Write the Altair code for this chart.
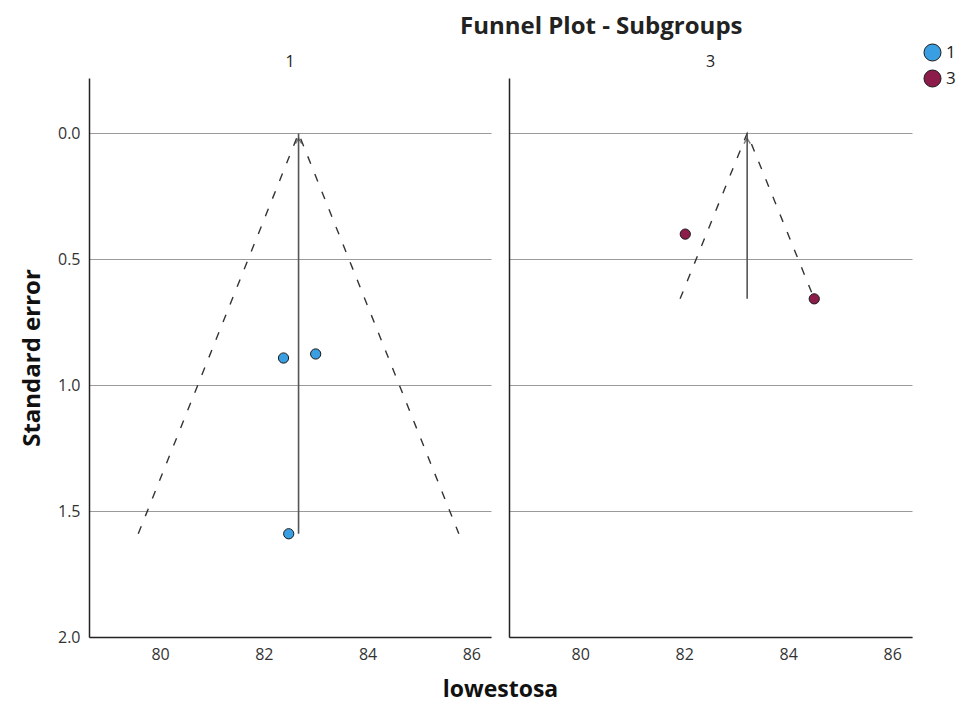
import altair as alt
import pandas as pd

# ---- data ----
groups = ["1", "3"]
effect_g1 = [82.38, 83.00, 82.48]
se_g1 = [0.892, 0.876, 1.59]
effect_g3 = [82.02, 84.50]
se_g3 = [0.40, 0.657]

pooled = {"1": 82.67, "3": 83.21}
se_max = {"1": 1.59, "3": 0.657}
funnel_left = {"1": 79.58, "3": 81.92}
funnel_right = {"1": 85.76, "3": 84.50}

x_ticks = [80, 82, 84, 86]
y_ticks = [0.0, 0.5, 1.0, 1.5, 2.0]
colors = ["#3A9FE2", "#8C1D4B"]

FONT = "Open Sans"
X_DOMAIN = [78.63, 86.38]
Y_DOMAIN = [-0.22, 2.0]


def panel(g, effects, ses, width, first):
    pts = pd.DataFrame({"effect": effects, "se": ses, "group": [g] * len(effects)})
    funnel = pd.DataFrame({
        "x": [funnel_left[g], pooled[g], funnel_right[g]],
        "y": [se_max[g], 0.0, se_max[g]],
        "order": [0, 1, 2],
    })
    vline = pd.DataFrame({"x": [pooled[g]], "y": [0.0], "y2": [se_max[g]]})
    arrow = pd.DataFrame({"x": [pooled[g]], "y": [0.0]})

    xscale = alt.Scale(domain=X_DOMAIN, nice=False, zero=False)
    yscale = alt.Scale(domain=Y_DOMAIN, nice=False, zero=False, reverse=True)

    common_x = dict(values=x_ticks, format="d", grid=False, ticks=False, labelPadding=9,
                    labelFontSize=16, labelFont=FONT, labelColor="#333",
                    domainColor="#222", domainWidth=1.5, labelFlush=False)
    if first:
        xaxis = alt.Axis(title="lowestosa", titleFontSize=23, titleFont=FONT,
                         titleFontWeight="bold", titleColor="#111", titlePadding=16,
                         titleX=411, **common_x)
        yaxis = alt.Axis(values=y_ticks, format=".1f", grid=True, gridColor="#9a9a9a",
                         gridWidth=1, ticks=False, labelPadding=9, labelFontSize=16,
                         labelFont=FONT, labelColor="#333", domainColor="#222",
                         domainWidth=1.5, title="Standard error", titleFontSize=24,
                         titleFont=FONT, titleFontWeight="bold", titleColor="#111",
                         titlePadding=13, labelFlush=False)
    else:
        xaxis = alt.Axis(title=None, **common_x)
        yaxis = alt.Axis(values=y_ticks, grid=True, gridColor="#9a9a9a", gridWidth=1,
                         ticks=False, labels=False, title=None, domainColor="#222",
                         domainWidth=1.5)

    funnel_chart = alt.Chart(funnel).mark_line(
        color="#333", strokeWidth=1.4, strokeDash=[8, 11]
    ).encode(
        x=alt.X("x:Q", scale=xscale, axis=xaxis),
        y=alt.Y("y:Q", scale=yscale, axis=yaxis),
        order="order:Q",
    )

    vline_chart = alt.Chart(vline).mark_rule(color="#555", strokeWidth=1.6).encode(
        x=alt.X("x:Q", scale=xscale), y=alt.Y("y:Q", scale=yscale), y2="y2:Q"
    )

    arrow_chart = alt.Chart(arrow).mark_point(
        shape="M-0.6,1 L0,0 L0.6,1", filled=False, color="#444", strokeWidth=1.4,
        size=110, yOffset=5
    ).encode(x=alt.X("x:Q", scale=xscale), y=alt.Y("y:Q", scale=yscale))

    pts_chart = alt.Chart(pts).mark_circle(
        size=105, opacity=1, stroke="#1a1a1a", strokeWidth=1
    ).encode(
        x=alt.X("effect:Q", scale=xscale),
        y=alt.Y("se:Q", scale=yscale),
        color=alt.Color("group:N", scale=alt.Scale(domain=groups, range=colors),
                        legend=alt.Legend(title=None, orient="none", legendX=834,
                                          legendY=-35, symbolSize=290,
                                          symbolStrokeColor="#1a1a1a",
                                          symbolStrokeWidth=1, labelFontSize=17,
                                          labelFont=FONT, labelColor="#222",
                                          rowPadding=3, labelOffset=4)),
    )

    return alt.layer(funnel_chart, vline_chart, arrow_chart, pts_chart).properties(
        width=width, height=559,
        title=alt.TitleParams(g, fontSize=16, font=FONT, fontWeight="normal",
                              color="#222", offset=8),
    )


left = panel("1", effect_g1, se_g1, 402, True)
right = panel("3", effect_g3, se_g3, 403, False)

chart = alt.hconcat(left, right, spacing=18, bounds="flush").properties(
    title=alt.TitleParams("Funnel Plot - Subgroups", fontSize=24, font=FONT,
                          fontWeight="bold", color="#222", anchor="middle", dx=113,
                          offset=4),
    padding={"left": 12, "top": 7, "right": 0, "bottom": 2},
).configure_view(stroke=None)

chart.save("out.html", embed_options={"renderer": "svg", "actions": False})
